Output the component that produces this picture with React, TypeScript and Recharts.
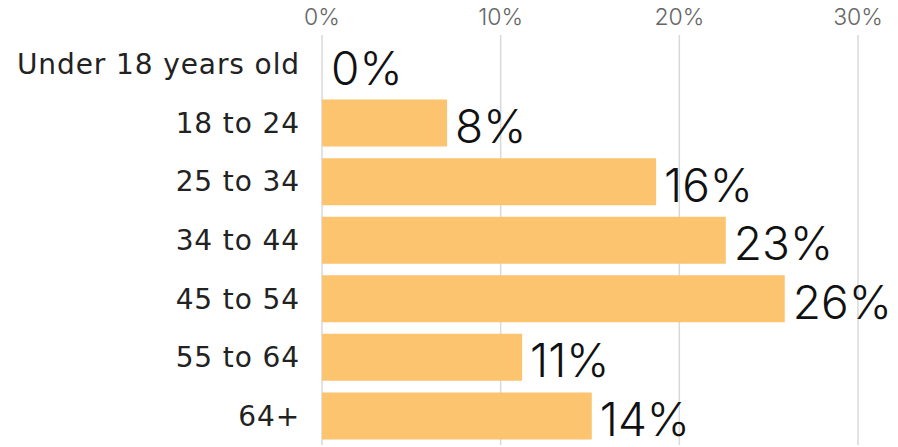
import React from "react";
import { BarChart, Bar, XAxis, YAxis, CartesianGrid, LabelList, Cell } from "recharts";

const ageGroups = [
  "Under 18 years old",
  "18 to 24",
  "25 to 34",
  "34 to 44",
  "45 to 54",
  "55 to 64",
  "64+",
];
const shares = [0, 7, 18.7, 22.6, 25.9, 11.2, 15.1];
const shareLabels = ["0%", "8%", "16%", "23%", "26%", "11%", "14%"];
const xTicks = [0, 10, 20, 30];

const data = ageGroups.map((group, i) => ({ group, share: shares[i], label: shareLabels[i] }));

const BAR_COLOR = "#FCC46F";
const LABEL_FONT = "Inter, 'Open Sans', sans-serif";
const AXIS_FONT = "'DejaVu Sans', sans-serif";

function ValueLabel(props: any) {
  const { x, y, width, height, value } = props;
  return (
    <text
      x={x + width + 8}
      y={y + height / 2 + 3}
      fontSize={46}
      fontFamily={LABEL_FONT}
      fontWeight={300}
      fill="#111"
      dominantBaseline="central"
    >
      {value}
    </text>
  );
}

export default function App() {
  return (
    <div style={{ position: "fixed", left: 0, top: 0, background: "#fff" }}>
      <BarChart
        width={898}
        height={447}
        data={data}
        layout="vertical"
        margin={{ top: 0, right: 40, bottom: 2, left: 0 }}
        barCategoryGap={6}
      >
        <CartesianGrid horizontal={false} stroke="#d9d9d9" strokeWidth={1.5} />
        <XAxis
          type="number"
          orientation="top"
          domain={[0, 30]}
          ticks={xTicks}
          tickFormatter={(v) => `${v}%`}
          axisLine={false}
          tickLine={false}
          height={35}
          tick={{ fontSize: 23, fill: "#666", fontFamily: LABEL_FONT, fontWeight: 300 }}
          tickMargin={4}
        />
        <YAxis
          type="category"
          dataKey="group"
          width={322}
          axisLine={false}
          tickLine={false}
          tickMargin={16}
          tick={{ fontSize: 28, fill: "#222", fontFamily: AXIS_FONT, letterSpacing: 0.9 }}
        />
        <Bar dataKey="share" fill={BAR_COLOR} minPointSize={1} isAnimationActive={false}>
          {data.map((d, i) => (
            <Cell key={i} fill={d.share === 0 ? "transparent" : BAR_COLOR} />
          ))}
          <LabelList dataKey="label" content={<ValueLabel />} />
        </Bar>
      </BarChart>
    </div>
  );
}
